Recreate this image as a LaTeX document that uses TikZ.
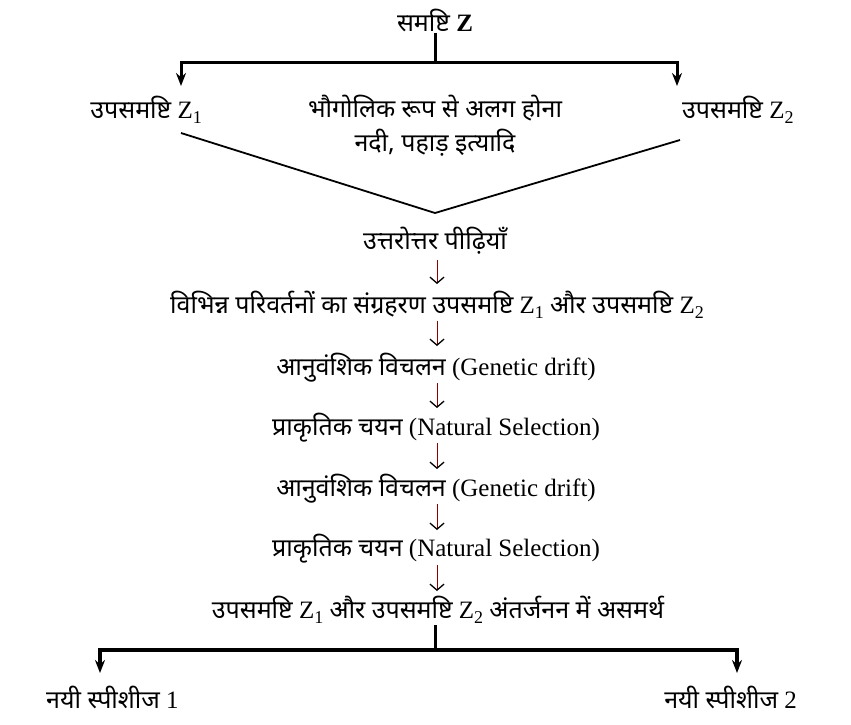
\documentclass[tikz,border=0pt]{standalone}
\usepackage{fontspec}
\setmainfont{Liberation Serif}
\newfontfamily\hi[Script=Devanagari]{Noto Sans}
\usetikzlibrary{arrows.meta}
\newcommand\hin[1]{{\hi #1}}
\newcommand\zsub[1]{\raisebox{-0.45ex}{\fontsize{18}{20}\selectfont #1}}
\tikzset{
  txt/.style={inner sep=1pt, font=\fontsize{25}{30}\selectfont},
  bar/.style={line width=3pt},
  bigarrow/.style={line width=3pt,-{Stealth[length=13pt,width=10pt]}},
  vline/.style={line width=1.8pt},
  smallarrow/.style={draw=red!55!black,line width=0.9pt,-{Straight Barb[length=6pt,width=14pt,color=black,line width=1.3pt]}}
}
\begin{document}
\begin{tikzpicture}[x=1pt,y=-1pt]
\useasboundingbox (0,0) rectangle (851,724);
% nodes
\node[txt,font=\fontsize{25}{30}\selectfont\bfseries] (title) at (435,20) {\hin{समष्टि} Z};
\node[txt,anchor=east] (sub1) at (203,110) {\hin{उपसमष्टि} Z\zsub{1}};
\node[txt,anchor=west] (sub2) at (681,110) {\hin{उपसमष्टि} Z\zsub{2}};
\node[txt] (geo1) at (435,108) {\hin{भौगोलिक रूप से अलग होना}};
\node[txt] (geo2) at (435,143) {\hin{नदी, पहाड़ इत्यादि}};
\node[txt] (s1) at (435,241) {\hin{उत्तरोत्तर पीढ़ियाँ}};
\node[txt] (s2) at (437,305) {\hin{विभिन्न परिवर्तनों का संग्रहरण उपसमष्टि} Z\zsub{1} \hin{और उपसमष्टि} Z\zsub{2}};
\node[txt] (s3) at (436,368) {\hin{आनुवंशिक विचलन} (Genetic drift)};
\node[txt] (s4) at (436,428) {\hin{प्राकृतिक चयन} (Natural Selection)};
\node[txt] (s5) at (436,489) {\hin{आनुवंशिक विचलन} (Genetic drift)};
\node[txt] (s6) at (436,549) {\hin{प्राकृतिक चयन} (Natural Selection)};
\node[txt] (s7) at (438,610) {\hin{उपसमष्टि} Z\zsub{1} \hin{और उपसमष्टि} Z\zsub{2} \hin{अंतर्जनन में असमर्थ}};
\node[txt,anchor=west] (n1) at (45,697) {\hin{नयी स्पीशीज} 1};
\node[txt,anchor=east] (n2) at (798,697) {\hin{नयी स्पीशीज} 2};
% top split
\coordinate (j1) at (435,62);
\coordinate (a1) at (181,86);
\coordinate (a2) at (677,86);
\draw[bar] (title.south) -- (j1);
\draw[bigarrow] (j1) -| (a1);
\draw[bigarrow] (j1) -| (a2);
% V lines
\coordinate (v1) at (181,133);
\coordinate (v2) at (680,140);
\coordinate (apex) at (435,213);
\draw[vline] (v1) -- (apex) -- (v2);
% small arrows (start / end points between the lines of text)
\coordinate (p1) at (437,260); \coordinate (q1) at (437,284);
\coordinate (p2) at (437,321); \coordinate (q2) at (437,346);
\coordinate (p3) at (437,383); \coordinate (q3) at (437,408);
\coordinate (p4) at (437,443); \coordinate (q4) at (437,469);
\coordinate (p5) at (437,504); \coordinate (q5) at (437,530);
\coordinate (p6) at (437,565); \coordinate (q6) at (437,591);
\foreach \i in {1,...,6}
  \draw[smallarrow] (p\i) -- (q\i);
% bottom split
\coordinate (j2) at (435,650);
\coordinate (b1) at (100,673);
\coordinate (b2) at (737,673);
\draw[bar] (s7.south -| j2) -- (j2);
\draw[bigarrow,line width=3.5pt] (j2) -| (b1);
\draw[bigarrow,line width=3.5pt] (j2) -| (b2);
\end{tikzpicture}
\end{document}
